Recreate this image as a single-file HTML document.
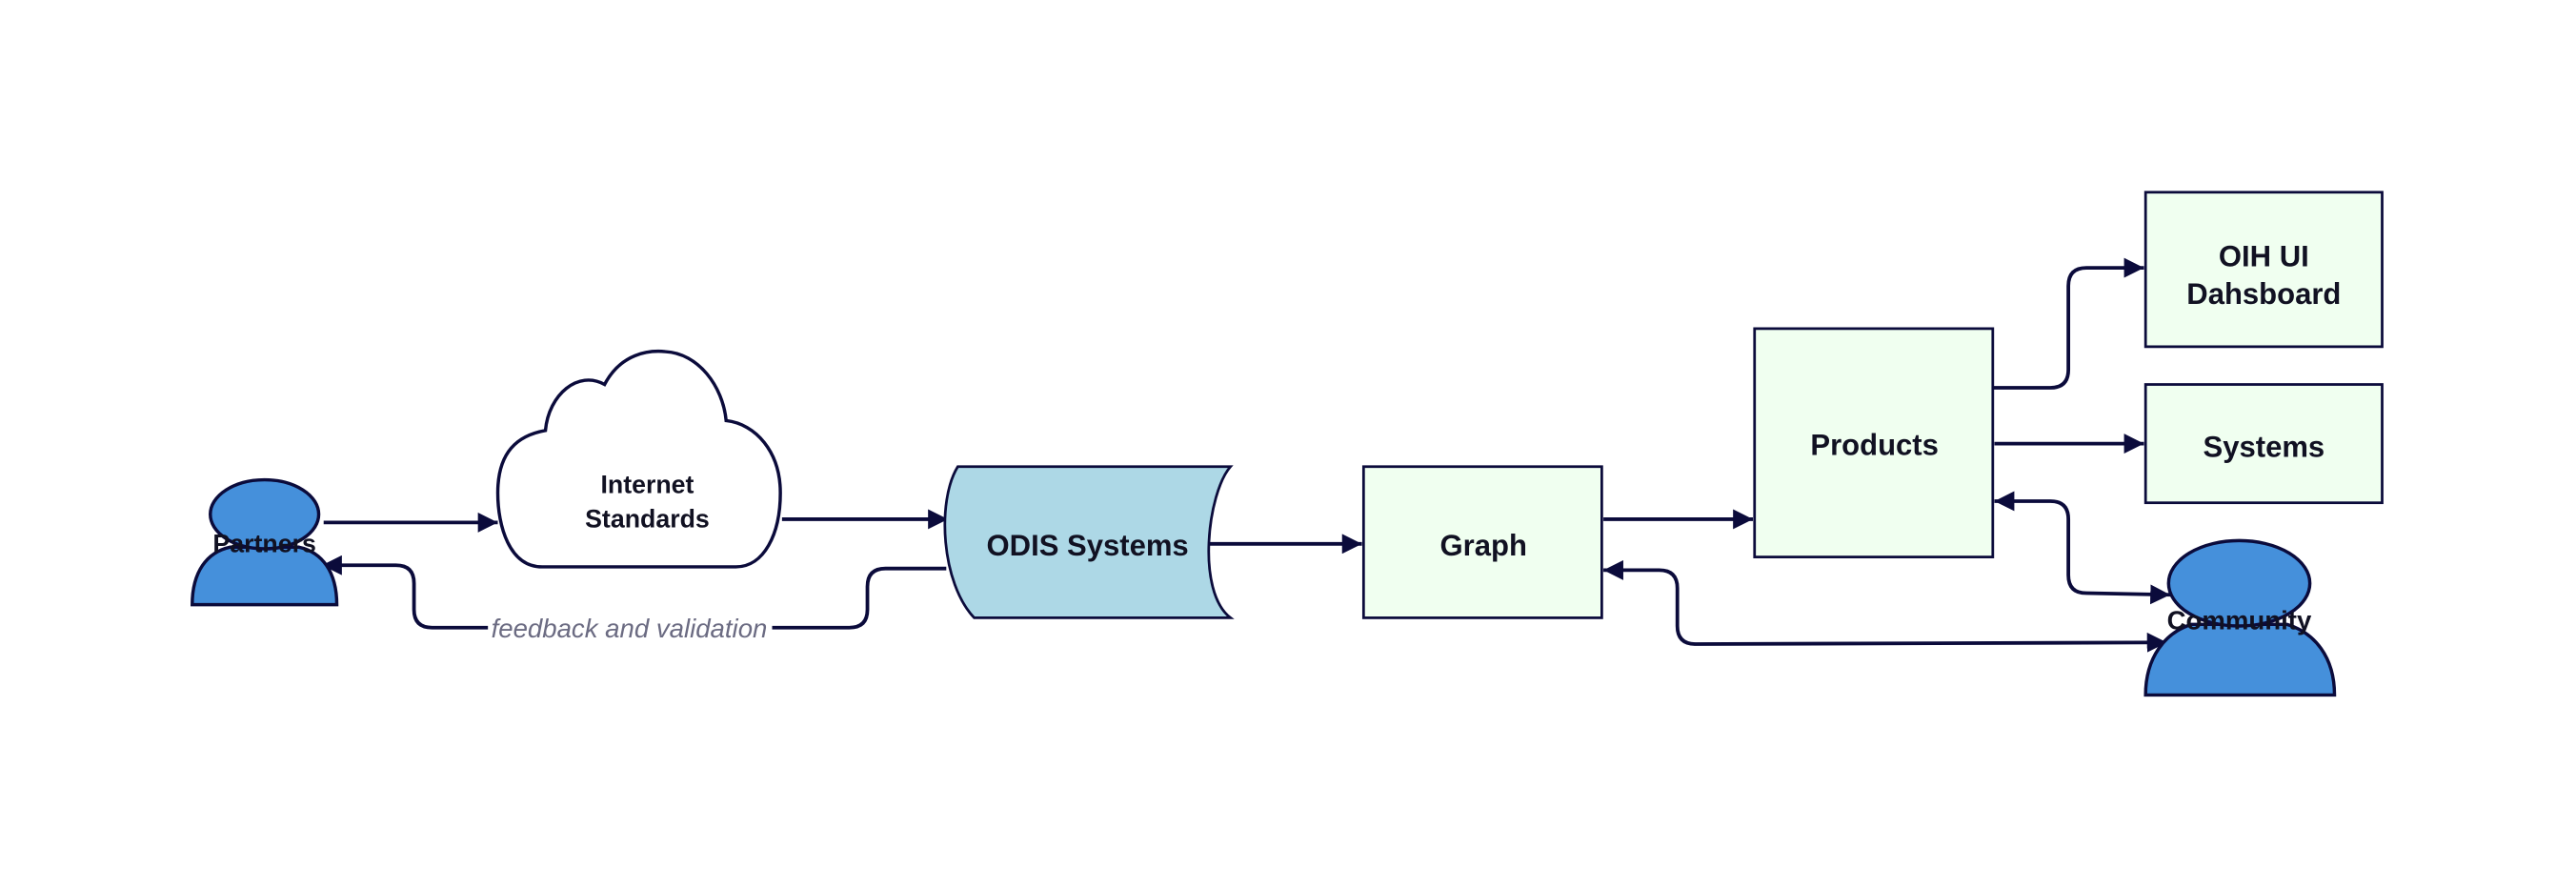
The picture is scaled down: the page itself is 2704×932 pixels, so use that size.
<!DOCTYPE html>
<html><head><meta charset="utf-8"><style>
html,body{margin:0;padding:0;background:#fff;}
svg{display:block;}
text{font-family:"Liberation Sans",sans-serif;}
</style></head><body>
<svg width="2704" height="932" viewBox="0 0 1568 540.45" preserveAspectRatio="none" xmlns="http://www.w3.org/2000/svg">
<defs>
<marker id="a" viewBox="0 0 10 10" refX="10" refY="5" markerWidth="5.5" markerHeight="5.5" orient="auto-start-reverse" markerUnits="strokeWidth">
<path d="M0,0 L10,5 L0,10 Z" fill="#0b0b3b"/></marker>
</defs>
<g fill="none" stroke="#0b0b3b" stroke-width="2.2">
<path d="M197,318 L303,318" marker-end="url(#a)"/>
<path d="M476,316 L577,316" marker-end="url(#a)"/>
<path d="M732,331 L829,331" marker-end="url(#a)"/>
<path d="M976,316 L1067,316" marker-end="url(#a)"/>
<path d="M1214,270 L1305,270" marker-end="url(#a)"/>
<path d="M1213,236 L1248,236 Q1259,236 1259,225 L1259,174 Q1259,163 1270,163 L1305,163" marker-end="url(#a)"/>
<path d="M1214,305 L1248,305 Q1259,305 1259,316 L1259,350 Q1259,361 1270,361 L1321,362" marker-start="url(#a)" marker-end="url(#a)"/>
<path d="M976,347 L1010,347 Q1021,347 1021,358 L1021,381 Q1021,392 1032,392 L1319,391" marker-start="url(#a)" marker-end="url(#a)"/>
<path d="M576,346 L539,346 Q528,346 528,357 L528,371 Q528,382 517,382 L263,382 Q252,382 252,371 L252,355 Q252,344 241,344 L196,344" marker-end="url(#a)"/>
</g>
<rect x="297" y="372" width="173" height="20" fill="#fff"/>
<text x="383" y="388" text-anchor="middle" font-size="16" font-style="italic" fill="#6b6b82">feedback and validation</text>

<g stroke="#0b0b3b" stroke-width="1.6">
<path d="M117,368 C117,348 126,336 140,333 L182,333 C196,336 205,348 205,368 Z" fill="#4590db" stroke-width="2"/>
<ellipse cx="161" cy="313" rx="33" ry="21" fill="#4590db" stroke-width="2"/>
<path d="M330,345 C310,345 303,320 303,300 C303,275 315,265 332,262 C334,240 352,225 368,234 C378,215 395,213 405,214 C425,215 440,235 442,256 C460,258 475,275 475,300 C475,325 465,345 448,345 Z" fill="#fff" stroke-width="2"/>
<path d="M583,284 L749,284 C735,300 728,360 749,376 L593,376 C573,355 570,305 583,284 Z" fill="#add8e6"/>
<rect x="830" y="284" width="145" height="92" fill="#f0fff0"/>
<rect x="1068" y="200" width="145" height="139" fill="#f0fff0"/>
<rect x="1306" y="117" width="144" height="94" fill="#f0fff0"/>
<rect x="1306" y="234" width="144" height="72" fill="#f0fff0"/>
<path d="M1306,423 C1306,400 1318,385 1334,380 L1392,380 C1409,385 1421,400 1421,423 Z" fill="#4590db" stroke-width="2"/>
<ellipse cx="1363" cy="355" rx="43" ry="26" fill="#4590db" stroke-width="2"/>
</g>

<g font-weight="bold" fill="#111122" text-anchor="middle">
<text x="161" y="336" font-size="15.5">Partners</text>
<text x="394" y="300" font-size="15.5">Internet</text>
<text x="394" y="321" font-size="15.5">Standards</text>
<text x="662" y="338" font-size="18">ODIS Systems</text>
<text x="903" y="338" font-size="18">Graph</text>
<text x="1141" y="277" font-size="18">Products</text>
<text x="1378" y="162" font-size="18">OIH UI</text>
<text x="1378" y="185" font-size="18">Dahsboard</text>
<text x="1378" y="278" font-size="18">Systems</text>
<text x="1363" y="383" font-size="16">Community</text>
</g>
</svg>
</body></html>
